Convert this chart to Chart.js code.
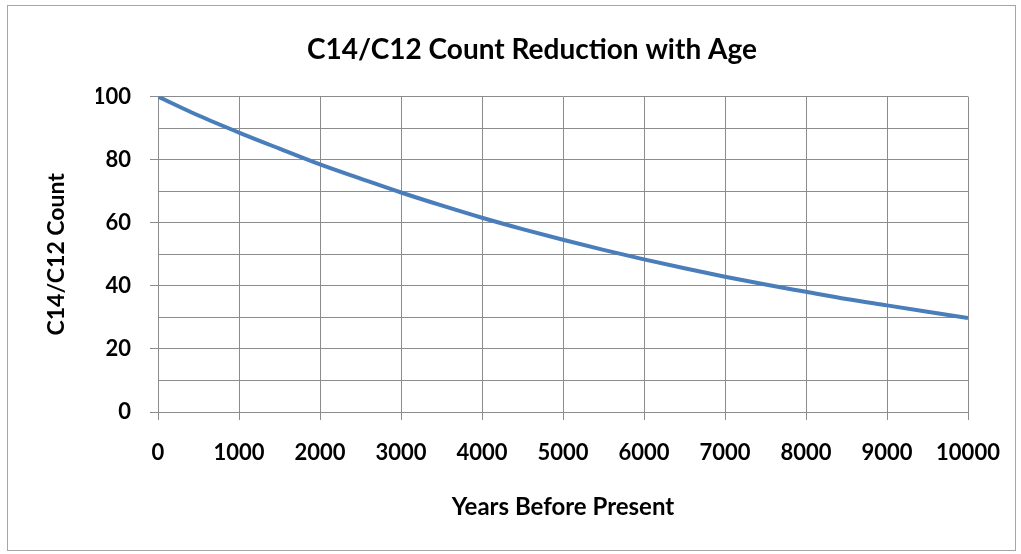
<!DOCTYPE html>
<html>
<head>
<meta charset="utf-8">
<script src="https://cdn.jsdelivr.net/npm/chart.js@4"></script>
<style>
  body { margin: 0; background: #fff; }
  #wrap { position: relative; width: 1021px; height: 554px; }
  #frame { position: absolute; left: 7px; top: 5px; width: 1007px; height: 544px; border: 1px solid #a6a6a6; pointer-events: none; }
</style>
</head>
<body>
<div id="wrap">
  <canvas id="myChart" width="1021" height="554"></canvas>
  <div id="frame"></div>
</div>
<script>
// years before present and C14/C12 count
var years = [0, 500, 1000, 1500, 2000, 2500, 3000, 3500, 4000, 4500, 5000,
             5500, 6000, 6500, 7000, 7500, 8000, 8500, 9000, 9500, 10000];
var counts = [100, 94, 88.6, 83.5, 78.5, 74, 69.6, 65.5, 61.6, 58, 54.6,
              51.4, 48.4, 45.6, 42.9, 40.4, 38.1, 35.8, 33.8, 31.8, 29.8];

var titleText = 'C14/C12 Count Reduction with Age';
var xTitle = 'Years Before Present';
var yTitle = 'C14/C12 Count';

var font = 'Lato, "Open Sans", sans-serif';
var gridColor = '#8c8c8c';

var points = [];
for (var i = 0; i < years.length; i++) {
  points.push({ x: years[i], y: counts[i] });
}

var ctx = document.getElementById('myChart').getContext('2d');
new Chart(ctx, {
  type: 'line',
  data: {
    datasets: [{
      label: yTitle,
      data: points,
      borderColor: '#4a7ebb',
      borderWidth: 4,
      pointRadius: 0,
      cubicInterpolationMode: 'monotone',
      fill: false
    }]
  },
  options: {
    responsive: false,
    animation: false,
    // left padding shifts the title centre; y scale width makes up the rest
    layout: { padding: { left: 96, right: 53, top: 0, bottom: 0 } },
    plugins: {
      legend: { display: false },
      tooltip: { enabled: false },
      title: {
        display: true,
        text: titleText,
        color: '#000',
        font: { family: font, size: 28, weight: 'bold' },
        padding: { top: 33, bottom: 30 }
      }
    },
    scales: {
      x: {
        type: 'linear',
        min: 0,
        max: 10000,
        afterFit: function (scale) { scale.height = 142; },
        ticks: {
          stepSize: 1000,
          color: '#000',
          padding: 20,
          maxRotation: 0,
          font: { family: font, size: 22, weight: 'bold' },
          callback: function (v) { return String(v); }
        },
        grid: { color: gridColor, lineWidth: 1, tickLength: 8, tickColor: gridColor },
        border: { color: gridColor },
        title: {
          display: true,
          text: xTitle,
          color: '#000',
          font: { family: font, size: 24, weight: 'bold' },
          padding: { top: 0, bottom: 32 }
        }
      },
      y: {
        min: 0,
        max: 100,
        afterFit: function (scale) { scale.width = 62; },
        ticks: {
          stepSize: 10,
          color: '#000',
          padding: 19,
          font: { family: font, size: 22, weight: 'bold' },
          callback: function (v) { return v % 20 === 0 ? String(v) : ''; }
        },
        grid: {
          color: gridColor,
          lineWidth: 1,
          tickLength: 8,
          tickColor: function (c) { return c.tick && c.tick.value % 20 === 0 ? gridColor : 'rgba(0,0,0,0)'; }
        },
        border: { color: gridColor },
        title: {
          display: true,
          text: yTitle,
          color: '#000',
          font: { family: font, size: 23, weight: 'bold' },
          padding: { top: -53, bottom: 0 }
        }
      }
    }
  }
});
</script>
</body>
</html>
